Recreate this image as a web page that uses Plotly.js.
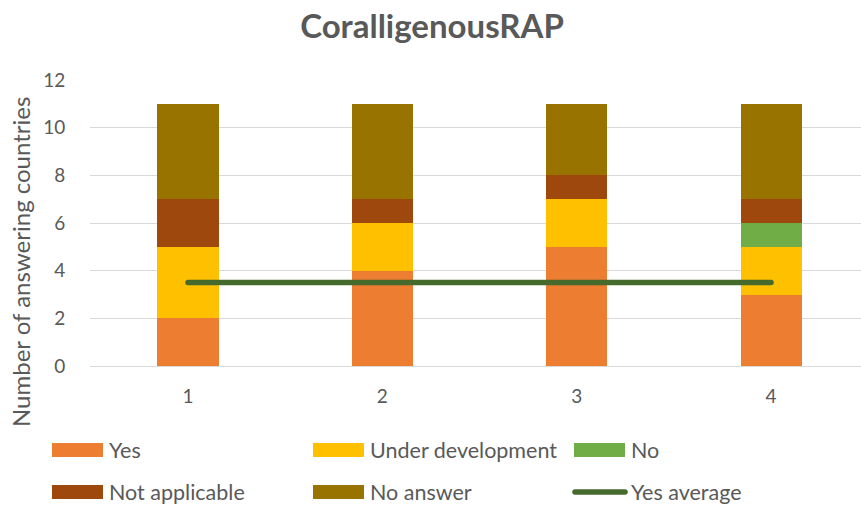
<!DOCTYPE html>
<html>
<head>
<meta charset="utf-8">
<script src="https://cdn.plot.ly/plotly-3.0.1.min.js"></script>
<style>
html,body{margin:0;padding:0;background:#fff;}
#chart{width:861px;height:506px;}
#chart .scatterlayer path.js-line{stroke-linecap:round;}
</style>
</head>
<body>
<div id="chart"></div>
<script>
// ---- data ----
var categories = [1, 2, 3, 4];
var yesValues = [2, 4, 5, 3];
var underDevelopmentValues = [3, 2, 2, 2];
var noValues = [0, 0, 0, 1];
var notApplicableValues = [2, 1, 1, 1];
var noAnswerValues = [4, 4, 3, 4];
var yesAverageValues = [3.5, 3.5, 3.5, 3.5];
var yTickValues = [0, 2, 4, 6, 8, 10, 12];

var seriesNames = ['Yes', 'Under development', 'No', 'Not applicable', 'No answer'];
var seriesValues = [yesValues, underDevelopmentValues, noValues, notApplicableValues, noAnswerValues];
var seriesColors = ['#ED7D31', '#FFC000', '#70AD47', '#9E480E', '#997300'];
var averageName = 'Yes average';
var averageColor = '#46692C';

// ---- style / geometry ----
var FONT = 'Lato, "Open Sans", sans-serif';
var TXT = '#595959';
var W = 861, H = 506;
var M = {l: 90, r: 0, t: 80, b: 140};
var PW = W - M.l - M.r, PH = H - M.t - M.b;
function px2x(px) { return (px - M.l) / PW; }
function py2y(py) { return (H - M.b - py) / PH; }

var traces = [];
for (var i = 0; i < seriesNames.length; i++) {
  traces.push({
    type: 'bar', x: categories, y: seriesValues[i], name: seriesNames[i],
    marker: {color: seriesColors[i]}, width: 0.314, showlegend: false, hoverinfo: 'skip'
  });
}
traces.push({
  type: 'scatter', mode: 'lines', x: categories, y: yesAverageValues, name: averageName,
  line: {color: averageColor, width: 5.5}, showlegend: false, hoverinfo: 'skip'
});

// ---- Excel-style legend (3 columns x 2 rows) ----
var legendCols = [52, 313, 574];
var legendRows = [450, 492];
var legendItems = seriesNames.map(function (n, idx) { return {name: n, color: seriesColors[idx], kind: 'box'}; });
legendItems.push({name: averageName, color: averageColor, kind: 'line'});

var shapes = [], annotations = [];
legendItems.forEach(function (it, idx) {
  var cx = legendCols[idx % 3], cy = legendRows[Math.floor(idx / 3)];
  if (it.kind === 'box') {
    shapes.push({type: 'rect', xref: 'paper', yref: 'paper',
      x0: px2x(cx), x1: px2x(cx + 51), y0: py2y(cy - 7), y1: py2y(cy + 7),
      fillcolor: it.color, line: {width: 0}});
  } else {
    shapes.push({type: 'line', xref: 'paper', yref: 'paper',
      x0: px2x(cx + 1), x1: px2x(cx + 51), y0: py2y(cy), y1: py2y(cy),
      line: {color: it.color, width: 5.5}});
  }
  annotations.push({text: it.name, showarrow: false, xref: 'paper', yref: 'paper',
    x: px2x(cx + 56), y: py2y(cy), xanchor: 'left', yanchor: 'middle', borderpad: 0,
    font: {family: FONT, size: 21.5, color: TXT}});
});
annotations.push({
  text: 'Number of answering countries', textangle: -90, showarrow: false,
  xref: 'paper', yref: 'paper', x: px2x(20), y: py2y(262),
  xanchor: 'center', yanchor: 'middle', font: {family: FONT, size: 24, color: TXT}
});

var layout = {
  width: W, height: H, margin: M,
  paper_bgcolor: '#fff', plot_bgcolor: '#fff',
  barmode: 'stack', showlegend: false,
  title: {text: '<b>CoralligenousRAP</b>', x: 432 / W, xref: 'container', xanchor: 'center',
          y: 1 - 26 / H, yref: 'container', yanchor: 'middle',
          font: {family: FONT, size: 33, color: TXT}},
  xaxis: {
    range: [0.4957, 4.463], tickvals: categories, ticktext: categories.map(String),
    showgrid: false, zeroline: false, showline: false,
    ticks: 'outside', ticklen: 13, tickcolor: 'rgba(0,0,0,0)',
    tickfont: {family: FONT, size: 19, color: TXT}, fixedrange: true
  },
  yaxis: {
    range: [0, 12], tickvals: yTickValues, showgrid: true, gridcolor: '#D9D9D9', gridwidth: 1,
    zeroline: true, zerolinecolor: '#D9D9D9', zerolinewidth: 1, showline: false,
    ticks: 'outside', ticklen: 20, tickcolor: 'rgba(0,0,0,0)',
    tickfont: {family: FONT, size: 19, color: TXT}, fixedrange: true
  },
  shapes: shapes,
  annotations: annotations,
  hovermode: false
};

Plotly.newPlot('chart', traces, layout, {staticPlot: true, displayModeBar: false}).then(function (gd) {
  gd.querySelectorAll('.shapelayer path').forEach(function (p) { p.style.strokeLinecap = 'round'; });
});
</script>
</body>
</html>
